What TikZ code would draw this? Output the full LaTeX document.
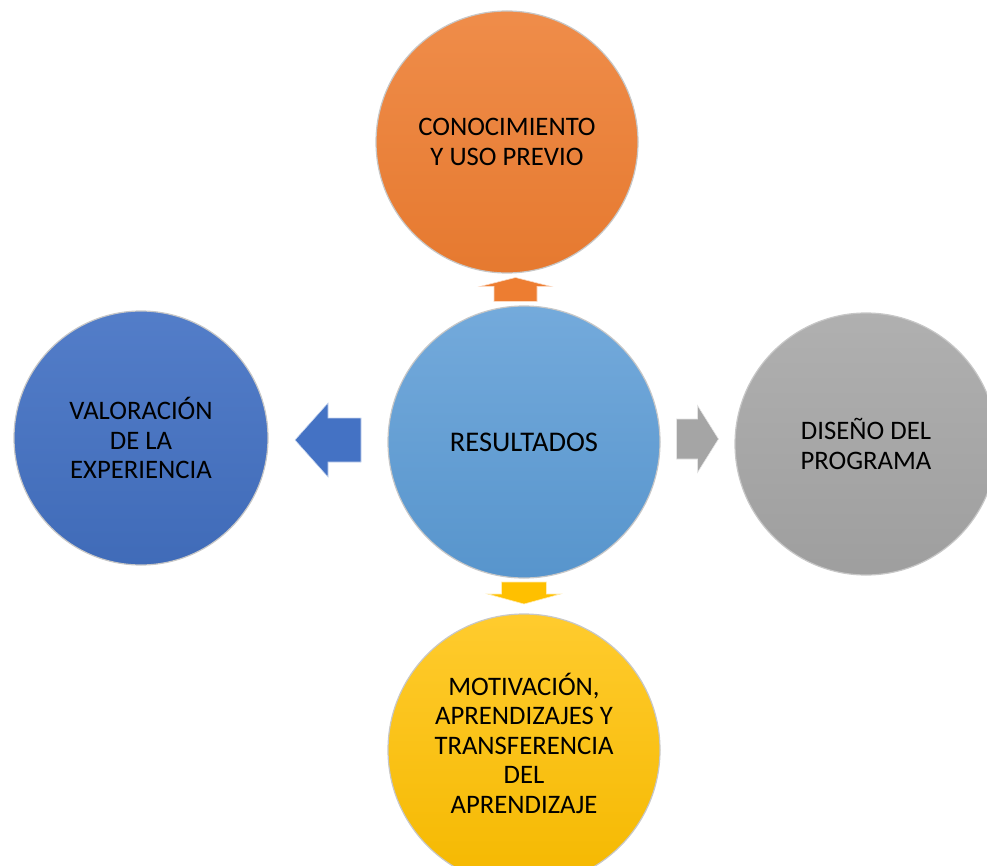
\documentclass[tikz,border=0pt]{standalone}
\usepackage{fontspec}
\setmainfont{Carlito}
\usetikzlibrary{calc}

\definecolor{resBlue}{HTML}{5B9BD5}
\definecolor{valBlue}{HTML}{4472C4}
\definecolor{conOrange}{HTML}{ED7D31}
\definecolor{disGray}{HTML}{A5A5A5}
\definecolor{motYellow}{HTML}{FFC000}

\tikzset{
  bubble/.style={circle, draw=black!22, line width=1.2pt, inner sep=0pt, align=center,
    font=\fontsize{26.7}{29.5}\selectfont},
  bubbletext/.style={align=center, inner sep=0pt, font=\fontsize{26.7}{29.5}\selectfont},
  blockarrow/.style={draw=white!70!#1, line width=0.6pt, fill=#1}
}

% center, angle, length, head length, head width, shaft width, colour
\newcommand{\blockarr}[7]{%
  \filldraw[blockarrow=#7, shift={(#1)}, rotate=#2]
    ({#3/2},0) -- ({#3/2-#4},{#5/2}) -- ({#3/2-#4},{#6/2}) -- ({-#3/2},{#6/2})
    -- ({-#3/2},{-#6/2}) -- ({#3/2-#4},{-#6/2}) -- ({#3/2-#4},{-#5/2}) -- cycle;}

\begin{document}
\begin{tikzpicture}[x=1pt, y=-1pt]
      \clip (0,0) rectangle (987,866);

      \node[bubble, top color=conOrange!88!white, bottom color=conOrange!97!black, minimum size=262] (con) at (507,142) {CONOCIMIENTO\\Y USO PREVIO};
      \node[bubble, top color=valBlue!92!white, bottom color=valBlue!94!black, minimum size=254] (val) at (141,438) {VALORACIÓN\\DE LA\\EXPERIENCIA};
      \node[bubble, top color=disGray!88!white, bottom color=disGray!96!black, minimum size=262] (dis) at (866,444) {DISEÑO DEL\\PROGRAMA};
      \node[bubble, top color=motYellow!82!white, bottom color=motYellow!96!black, minimum size=272] (mot) at (524,750) {};
      \node[bubbletext] (motText) at ($(mot.center)+(0,-7)$) {MOTIVACIÓN,\\APRENDIZAJES Y\\TRANSFERENCIA\\DEL\\APRENDIZAJE};
      \node[bubble, top color=resBlue!85!white, bottom color=resBlue!96!black, minimum size=272,
        font=\fontsize{28.5}{31}\selectfont] (res) at (524,442) {RESULTADOS};

      \coordinate (aL) at ($(res.west)!0.5!(val.east)$);
      \coordinate (aR) at ($(res.east)!0.5!(dis.west)+(0,-4)$);
      \coordinate (aT) at ($(res.north)!0.5!(con.south)$);
      \coordinate (aB) at ($(res.south)!0.5!(mot.north)+(0,-3)$);

      \blockarr{aL}{180}{66}{33}{74}{44}{valBlue}
      \blockarr{aR}{0}{42}{21}{67}{40}{disGray}
      \blockarr{aT}{90}{24}{9}{71}{43}{conOrange}
      \blockarr{aB}{270}{22}{10}{73}{45}{motYellow}
    \end{tikzpicture}
\end{document}
